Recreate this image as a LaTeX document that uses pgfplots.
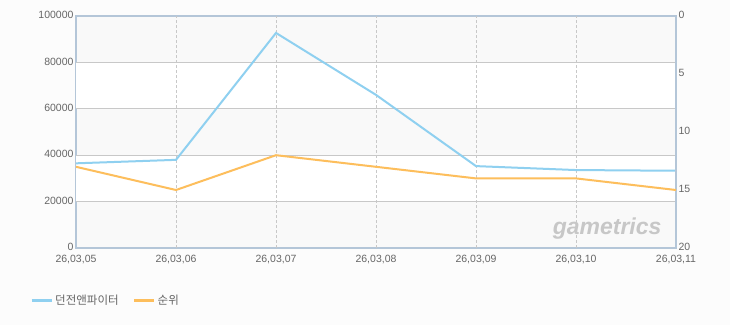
\documentclass[border=0pt]{standalone}
\usepackage{pgfplots}
\pgfplotsset{compat=1.18}
\usepackage{fontspec}
\setmainfont{Liberation Sans}
\newfontfamily\kr{Noto Sans CJK KR}
\definecolor{bg}{HTML}{FCFCFC}
\definecolor{band}{HTML}{F9F9F9}
\definecolor{axl}{HTML}{B4C6D8}
\definecolor{gridc}{HTML}{C8C8C8}
\definecolor{tickc}{HTML}{666666}
\definecolor{blueL}{HTML}{8FD0F0}
\definecolor{orangeL}{HTML}{FDBE5C}
\begin{document}
\begin{tikzpicture}[x=1pt,y=1pt]
\fill[bg] (0,0) rectangle (730,325);
\pgfplotsset{
  common/.style={
    scale only axis, width=600pt, height=232pt,
    at={(76pt,77pt)}, anchor=south west,
    xmin=0, xmax=6,
    xtick={0,...,6},
    tick style={draw=none},
    tick label style={font=\fontsize{10.5}{12}\selectfont, text=tickc},
    /pgf/number format/assume math mode=true,
    axis line style={draw=axl, line width=1.6pt},
  }
}
\begin{axis}[common,
  ymin=0, ymax=100000,
  ytick={0,20000,40000,60000,80000,100000},
  scaled y ticks=false,
  yticklabel style={/pgf/number format/fixed, /pgf/number format/set thousands separator={}},
  xticklabels={26{,}03{,}05,26{,}03{,}06,26{,}03{,}07,26{,}03{,}08,26{,}03{,}09,26{,}03{,}10,26{,}03{,}11},
  xticklabel style={yshift=-4pt},
  yticklabel style={xshift=1pt, yshift=1pt},
  axis background/.style={fill=band},
  ymajorgrids=false,
  xmajorgrids=false,
  legend style={at={(-49pt,-52pt)}, anchor=west, draw=none, fill=none,
    legend columns=2, font=\kr\fontsize{11.5}{13}\selectfont, text=tickc,
    /tikz/every even column/.append style={column sep=12pt}},
  legend image code/.code={\draw[#1, line width=3pt] (0pt,0pt) -- (20pt,0pt);},
]
\fill[white] (axis cs:0,60000) rectangle (axis cs:6,80000);
\fill[white] (axis cs:0,20000) rectangle (axis cs:6,40000);
\foreach \yy in {20000,40000,60000,80000} {
  \edef\tmp{\noexpand\draw[gridc, line width=0.9pt] (axis cs:0,\yy) -- (axis cs:6,\yy);}\tmp
}
\foreach \xx in {1,...,5} {
  \edef\tmp{\noexpand\draw[gridc, line width=0.8pt, dash pattern=on 3pt off 2pt] (axis cs:\xx,0) -- (axis cs:\xx,100000);}\tmp
}
\node[font=\bfseries\itshape\fontsize{23}{25}\selectfont, text=black!22, anchor=east] at (axis cs:5.89,8500) {gametrics};
\addplot[blueL, line width=2pt] coordinates {
 (0,36500) (1,38000) (2,92700) (3,66000) (4,35300) (5,33600) (6,33300)
};
\addlegendentry{던전앤파이터}
\addlegendimage{orangeL}
\addlegendentry{순위}
\end{axis}
\begin{axis}[common,
  ymin=0, ymax=20, y dir=reverse,
  ytick={0,5,10,15,20},
  axis y line*=right,
  axis x line=none,
  yticklabel style={xshift=-1pt, yshift=1pt, anchor=west},
]
\addplot[orangeL, line width=2pt] coordinates {
 (0,13) (1,15) (2,12) (3,13) (4,14) (5,14) (6,15)
};
\end{axis}
\end{tikzpicture}
\end{document}
